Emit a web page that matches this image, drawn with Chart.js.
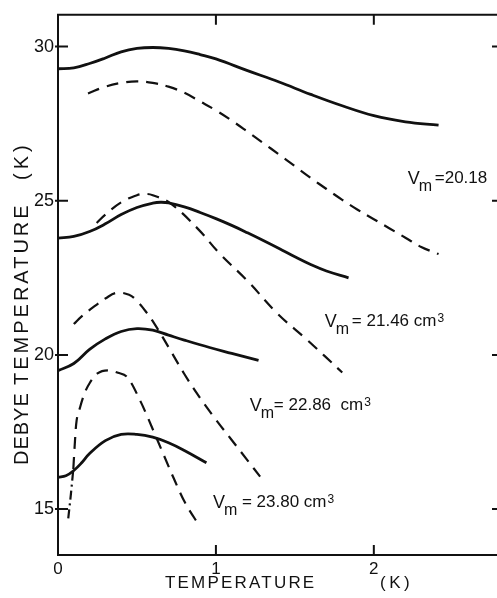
<!DOCTYPE html>
<html>
<head>
<meta charset="utf-8">
<script src="https://cdn.jsdelivr.net/npm/chart.js@4.4.1/dist/chart.umd.min.js"></script>
<style>
    html, body { margin: 0; padding: 0; background: #fff; }
</style>
</head>
<body>
<canvas id="debyeChart" width="497" height="598"></canvas>
<script>
// Tick labels
const xTicks = [0, 1, 2];
const yTicks = [15, 20, 25, 30];

// V_m = 20.18
const solid2018T = [0, 0.1, 0.2, 0.3, 0.4, 0.5, 0.6, 0.7, 0.8, 0.9, 1.0, 1.2, 1.4, 1.6, 1.8, 2.0, 2.2, 2.41];
const solid2018Y = [29.28, 29.31, 29.45, 29.63, 29.83, 29.94, 29.97, 29.94, 29.86, 29.74, 29.6, 29.22, 28.85, 28.45, 28.08, 27.76, 27.56, 27.45];
const dashed2018T = [0.19, 0.3, 0.4, 0.5, 0.6, 0.7, 0.8, 0.9, 1.0, 1.1, 1.2, 1.3, 1.4, 1.5, 1.6, 1.7, 1.8, 1.9, 2.0, 2.1, 2.2, 2.3, 2.41];
const dashed2018Y = [28.48, 28.7, 28.82, 28.87, 28.82, 28.7, 28.5, 28.22, 27.93, 27.6, 27.24, 26.87, 26.5, 26.12, 25.74, 25.38, 25.03, 24.7, 24.4, 24.1, 23.8, 23.5, 23.27];

// V_m = 21.46
const solid2146T = [0, 0.1, 0.2, 0.3, 0.4, 0.5, 0.6, 0.65, 0.7, 0.8, 0.9, 1.0, 1.1, 1.2, 1.3, 1.4, 1.5, 1.6, 1.7, 1.84];
const solid2146Y = [23.79, 23.84, 24.0, 24.25, 24.55, 24.78, 24.92, 24.95, 24.93, 24.8, 24.62, 24.42, 24.2, 23.96, 23.71, 23.45, 23.18, 22.93, 22.72, 22.5];
const dashed2146T = [0.245, 0.3, 0.4, 0.5, 0.55, 0.6, 0.71, 0.88, 1.025, 1.2, 1.39, 1.575, 1.8];
const dashed2146Y = [24.28, 24.55, 24.95, 25.18, 25.22, 25.18, 24.92, 24.12, 23.28, 22.4, 21.34, 20.5, 19.43];

// V_m = 22.86
const solid2286T = [0, 0.1, 0.2, 0.3, 0.4, 0.5, 0.6, 0.7, 0.8, 0.96, 1.1, 1.27];
const solid2286Y = [19.49, 19.72, 20.18, 20.52, 20.76, 20.85, 20.8, 20.64, 20.48, 20.24, 20.05, 19.82];
const dashed2286T = [0.1, 0.15, 0.25, 0.3, 0.37, 0.45, 0.5, 0.56, 0.63, 0.7, 0.8, 0.9, 1.0, 1.1, 1.2, 1.28];
const dashed2286Y = [21.0, 21.25, 21.65, 21.83, 22.01, 21.95, 21.75, 21.38, 20.85, 20.25, 19.38, 18.6, 17.9, 17.24, 16.58, 16.05];

// V_m = 23.80
const solid2380T = [0, 0.05, 0.1, 0.15, 0.2, 0.3, 0.4, 0.5, 0.6, 0.7, 0.8, 0.94];
const solid2380Y = [16.03, 16.08, 16.25, 16.5, 16.8, 17.22, 17.42, 17.42, 17.33, 17.15, 16.9, 16.5];
const dashDot2380T = [0.065, 0.082, 0.097];
const dashDot2380Y = [14.7, 15.5, 16.3];
const dashed2380T = [0.097, 0.105, 0.115, 0.14, 0.17, 0.2, 0.25, 0.32, 0.38, 0.44, 0.52, 0.63, 0.73, 0.8, 0.9];
const dashed2380Y = [16.3, 17.0, 17.75, 18.3, 18.78, 19.08, 19.4, 19.5, 19.42, 19.27, 18.52, 17.23, 16.03, 15.25, 14.42];

// Teks label kurva (posisi dalam satuan data)
const curveLabels = [
    { t: 2.215, k: 25.57, rest: "=20.18", gap: 27, sup: "" },
    { t: 1.69, k: 20.95, rest: "= 21.46 cm", gap: 27, sup: "3" },
    { t: 1.215, k: 18.2, rest: "= 22.86  cm", gap: 24, sup: "3" },
    { t: 0.981, k: 15.06, rest: "= 23.80 cm", gap: 29, sup: "3" },
];

const FONT = '"Liberation Sans", Arial, sans-serif';
const INK = "#111";

function toPoints(xs, ys) {
    return xs.map((x, i) => ({ x: x, y: ys[i] }));
}

function line(xs, ys, dash, width, mode) {
    return {
        data: toPoints(xs, ys),
        borderColor: INK,
        borderWidth: width,
        borderDash: dash,
        pointRadius: 0,
        fill: false,
        tension: 0.4,
        cubicInterpolationMode: mode || "default",
    };
}

// Bingkai, tick ke dalam, judul sumbu dan label kurva
const framePlugin = {
    id: "frame",
    afterDraw(chart) {
        const ctx = chart.ctx;
        const a = chart.chartArea;
        const xs = chart.scales.x;
        const ys = chart.scales.y;

        ctx.save();
        ctx.strokeStyle = INK;
        ctx.lineWidth = 2;
        ctx.beginPath();
        ctx.moveTo(a.right, a.top);
        ctx.lineTo(a.left, a.top);
        ctx.lineTo(a.left, a.bottom);
        ctx.lineTo(a.right, a.bottom);
        ctx.stroke();

        ctx.beginPath();
        yTicks.forEach(v => {
            const py = ys.getPixelForValue(v);
            ctx.moveTo(a.left - 3, py);
            ctx.lineTo(a.left + 10, py);
            ctx.moveTo(a.right - 5, py);
            ctx.lineTo(a.right, py);
        });
        xTicks.slice(1).forEach(v => {
            const px = xs.getPixelForValue(v);
            ctx.moveTo(px, a.top);
            ctx.lineTo(px, a.top + 10);
            ctx.moveTo(px, a.bottom);
            ctx.lineTo(px, a.bottom - 10);
        });
        ctx.stroke();

        ctx.fillStyle = INK;
        ctx.textBaseline = "alphabetic";
        ctx.textAlign = "left";

        // judul sumbu x
        ctx.font = "17px " + FONT;
        ctx.letterSpacing = "2.2px";
        ctx.fillText("TEMPERATURE", 165, 588);
        ctx.letterSpacing = "3.5px";
        ctx.fillText("(K)", 380, 588);

        // judul sumbu y
        ctx.save();
        ctx.translate(28, 465);
        ctx.rotate(-Math.PI / 2);
        ctx.font = "20px " + FONT;
        ctx.letterSpacing = "1px";
        ctx.fillText("DEBYE", 0, 0);
        ctx.letterSpacing = "3px";
        ctx.fillText("TEMPERATURE", 80, 0);
        ctx.letterSpacing = "4px";
        ctx.fillText("(K)", 285, 0);
        ctx.restore();

        // label V_m
        ctx.letterSpacing = "0px";
        curveLabels.forEach(lb => {
            const px = xs.getPixelForValue(lb.t);
            const py = ys.getPixelForValue(lb.k);
            ctx.font = "18px " + FONT;
            ctx.fillText("V", px, py + 1);
            ctx.font = "16px " + FONT;
            ctx.fillText("m", px + 11, py + 8);
            ctx.font = "17px " + FONT;
            ctx.fillText(lb.rest, px + lb.gap, py);
            if (lb.sup) {
                const w = ctx.measureText(lb.rest).width;
                ctx.font = "12px " + FONT;
                ctx.fillText(lb.sup, px + lb.gap + w + 1, py - 4);
            }
        });
        ctx.restore();
    },
};

const ctx = document.getElementById("debyeChart").getContext("2d");
new Chart(ctx, {
    type: "line",
    data: {
        datasets: [
            line(solid2018T, solid2018Y, [], 2.8),
            line(dashed2018T, dashed2018Y, [12, 8], 2.2),
            line(solid2146T, solid2146Y, [], 2.8),
            line(dashed2146T, dashed2146Y, [12, 8], 2.2),
            line(solid2286T, solid2286Y, [], 2.8),
            line(dashed2286T, dashed2286Y, [12, 8], 2.2),
            line(solid2380T, solid2380Y, [], 2.8),
            line(dashDot2380T, dashDot2380Y, [9, 4, 2, 4], 2.2, "monotone"),
            line(dashed2380T, dashed2380Y, [12, 8], 2.2, "monotone"),
        ],
    },
    options: {
        responsive: false,
        devicePixelRatio: 1,
        animation: false,
        layout: { padding: { top: 13, right: 0, left: 0, bottom: 0 } },
        plugins: {
            legend: { display: false },
            tooltip: { enabled: false },
        },
        scales: {
            x: {
                type: "linear",
                min: 0,
                max: 2.78,
                afterFit: s => { s.height = 43; },
                afterBuildTicks: s => { s.ticks = xTicks.map(v => ({ value: v })); },
                grid: { display: false, drawTicks: false },
                border: { display: false },
                ticks: {
                    color: INK,
                    font: { family: FONT, size: 17 },
                    padding: 4,
                    maxRotation: 0,
                    autoSkip: false,
                    callback: v => String(v),
                },
            },
            y: {
                type: "linear",
                min: 13.51,
                max: 31.03,
                afterFit: s => { s.width = 58; },
                afterBuildTicks: s => { s.ticks = yTicks.map(v => ({ value: v })); },
                grid: { display: false, drawTicks: false },
                border: { display: false },
                ticks: {
                    color: INK,
                    font: { family: FONT, size: 18 },
                    padding: 4,
                    autoSkip: false,
                    callback: v => String(v),
                },
            },
        },
    },
    plugins: [framePlugin],
});
</script>
</body>
</html>
